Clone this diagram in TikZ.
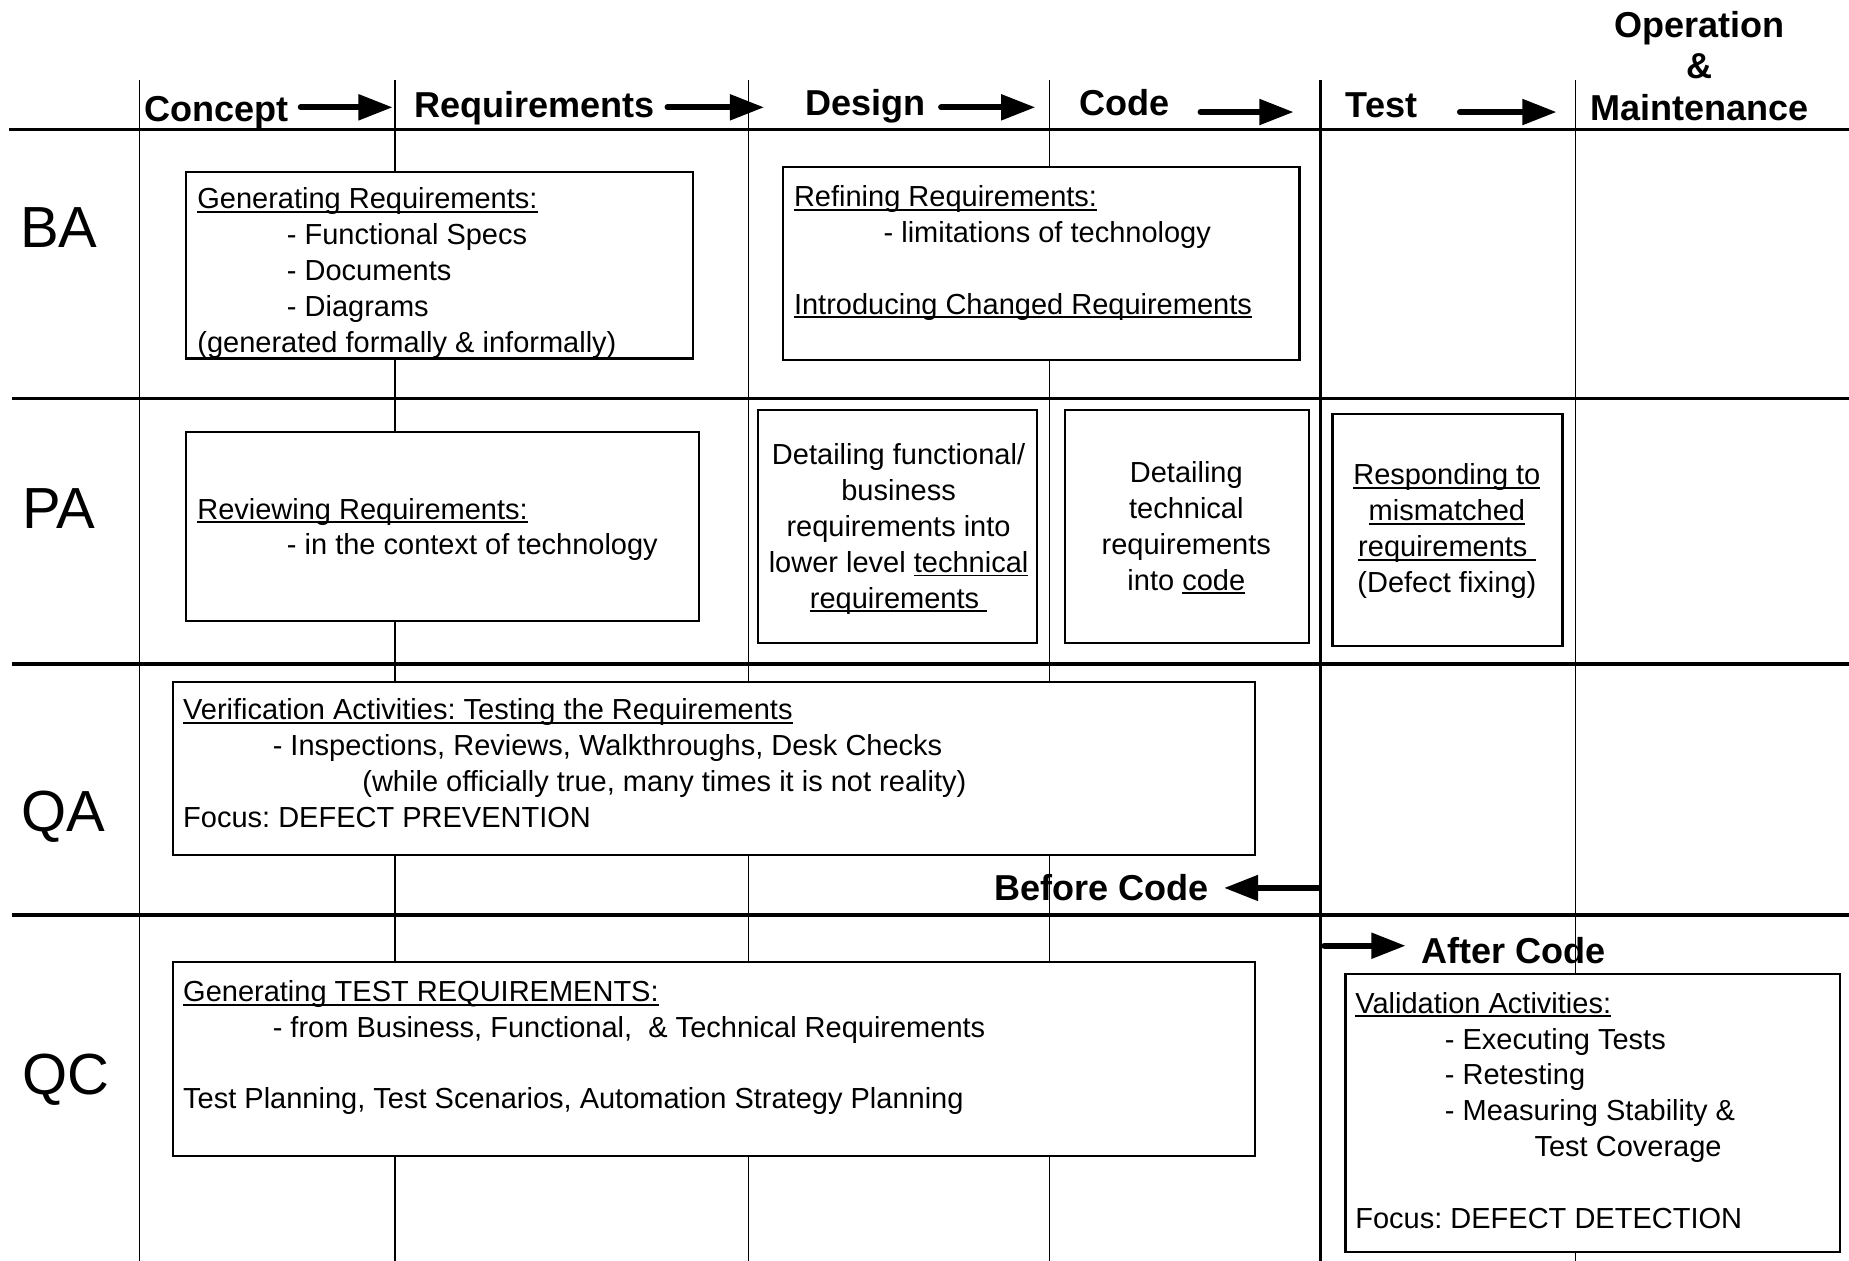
\documentclass[tikz,border=0pt]{standalone}
\usepackage{fontspec}
\setmainfont{Liberation Sans}
\frenchspacing
\usetikzlibrary{arrows.meta,fit}

\tikzset{
  gridline/.style={line width=0.6pt},
  rowline/.style={line width=1.6pt},
  box/.style={draw, fill=white, line width=1pt, inner sep=0pt},
  txt/.style={font=\fontsize{14}{17.3}\selectfont, inner sep=0pt, anchor=north west, align=left},
  ctxt/.style={font=\fontsize{14}{17.3}\selectfont, inner sep=0pt, anchor=north, align=center},
  head/.style={font=\fontsize{17.4}{20.1}\selectfont\bfseries, inner sep=0pt, anchor=base west},
  role/.style={font=\fontsize{28}{30}\selectfont, inner sep=0pt},
  bigarrow/.style={line width=2.8pt, line cap=round, -{Triangle[length=0.58cm,width=0.42cm]}}
}
\newcommand{\tabin}{\hspace*{1.52cm}}
\newcommand{\undl}[1]{\setbox0\hbox{#1}\rlap{\rule[-2pt]{\wd0}{0.9pt}}\box0}

\begin{document}
\begin{tikzpicture}[x=0.02cm, y=-0.02cm]
\useasboundingbox (0,0) rectangle (1568,1069);

% grid
\foreach \x in {118,335,635,890,1336}
{
	\draw[gridline] (\x,68) -- (\x,1069);
}
\draw[line width=1.4pt] (1120,68) -- (1120,1069);
\draw[line width=1.2pt] (8,110) -- (1568,110);
\foreach \y in {338,563,776}
{
	\draw[rowline] (10,\y) -- (1568,\y);
}

% phases
\node[head] (concept) at (122,103) {Concept};
\node[head] (reqs) at (351,100) {Requirements};
\node[head] (design) at (683,98) {Design};
\node[head] (code) at (915,98) {Code};
\node[head] (test) at (1141,100) {Test};
\node[head, anchor=north, align=center] (oper) at (1441,9) {Operation\\\&\\Maintenance};
\foreach \a/\b/\y [count=\i] in {255/333/91, 566/648/91, 798/878/91, 1018/1097/95, 1238/1320/95}
{
	\coordinate (s\i) at (\a,\y);
	\coordinate (e\i) at (\b,\y);
	\draw[bigarrow] (s\i) -- (e\i);
}

% roles
\node[role] (ba) at (50,193) {BA};
\node[role] (pa) at (50,431) {PA};
\node[role] (qa) at (54,693) {QA};
\node[role] (qc) at (56,916) {QC};

% BA
\node[box, fit={(158,146) (588,304)}] (genreq) {};
\node[txt] (genreqtxt) at (167,159) {\undl{Generating Requirements:}\\
	\tabin - Functional Specs\\
	\tabin - Documents\\
	\tabin - Diagrams\\
	(generated formally \& informally)};
\node[box, fit={(664,142) (1102,305)}] (refreq) {};
\node[txt] (refreqtxt) at (673,157) {\undl{Refining Requirements:}\\
	\tabin - limitations of technology\\[17.3pt]
	\undl{Introducing Changed Requirements}};

% PA
\node[box, fit={(158,366) (593,527)}] (revreq) {};
\node[txt] (revreqtxt) at (167,422) {\undl{Reviewing Requirements:}\\
	\tabin - in the context of technology};
\node[box, fit={(643,348) (879,545)}] (detfun) {};
\node[ctxt] (detfuntxt) at (762,376) {Detailing functional/\\business\\requirements into\\lower level \undl{technical}\\\undl{requirements }};
\node[box, fit={(903,348) (1110,545)}] (dettec) {};
\node[ctxt] (dettectxt) at (1006,391) {Detailing\\technical\\requirements\\into \undl{code}};
\node[box, fit={(1130,351) (1325,548)}] (respond) {};
\node[ctxt] (respondtxt) at (1227,393) {\undl{Responding to}\\\undl{mismatched}\\\undl{requirements }\\(Defect fixing)};

% QA
\node[box, fit={(147,578) (1064,725)}] (verify) {};
\node[txt] (verifytxt) at (155,592) {\undl{Verification Activities: Testing the Requirements}\\
	\tabin - Inspections, Reviews, Walkthroughs, Desk Checks\\
	\tabin\tabin (while officially true, many times it is not reality)\\
	Focus: DEFECT PREVENTION};
\node[head] (before) at (843,764) {Before Code};
\coordinate (bs) at (1118,753);
\coordinate (be) at (1038,753);
\draw[bigarrow] (bs) -- (be);

% QC
\node[head] (after) at (1205,817) {After Code};
\coordinate (as) at (1123,802);
\coordinate (ae) at (1192,802);
\draw[bigarrow] (as) -- (ae);
\node[box, fit={(147,816) (1064,980)}] (testreq) {};
\node[txt] (testreqtxt) at (155,831) {\undl{Generating TEST REQUIREMENTS:}\\
	\tabin - from Business, Functional,\ \ \& Technical Requirements\\[17.3pt]
	Test Planning, Test Scenarios, Automation Strategy Planning};
\node[box, fit={(1141,826) (1560,1062)}] (validate) {};
\node[txt] (validatetxt) at (1149,841) {\undl{Validation Activities:}\\
	\tabin - Executing Tests\\
	\tabin - Retesting\\
	\tabin - Measuring Stability \&\\
	\tabin\tabin Test Coverage\\[17.3pt]
	Focus: DEFECT DETECTION};
\end{tikzpicture}
\end{document}
